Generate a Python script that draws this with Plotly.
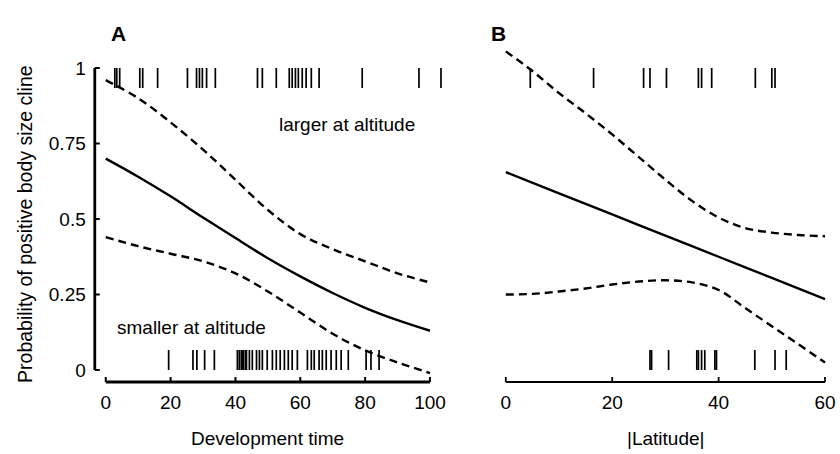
import plotly.graph_objects as go

# ---------------- data ----------------
# Panel A: development time
x_fit_A = [0, 10, 20, 30, 40, 50, 60, 70, 80, 90, 100]
fit_A = [0.70, 0.64, 0.575, 0.505, 0.437, 0.37, 0.31, 0.255, 0.206, 0.165, 0.13]
upper_A = [0.96, 0.90, 0.82, 0.73, 0.63, 0.53, 0.45, 0.40, 0.36, 0.32, 0.29]
lower_A = [0.44, 0.41, 0.385, 0.36, 0.32, 0.26, 0.19, 0.12, 0.065, 0.025, -0.01]

rug_top_A = [2.8, 3.4, 4.3, 10.5, 11.4, 16.0, 25.2, 28.0, 28.9, 29.8, 31.1, 33.8,
             46.8, 48.3, 52.6, 56.6, 57.5, 58.5, 59.4, 60.6, 61.8, 63.4, 65.8,
             79.1, 96.6, 103.4]
rug_bot_A = [19.4, 26.9, 28.1, 30.5, 33.5, 40.6, 41.2, 41.8, 42.2, 42.5, 43.1, 43.4,
             44.3, 45.2, 46.5, 47.4, 48.3, 49.8, 51.4, 52.6, 53.8, 55.1, 56.3, 57.5,
             59.1, 62.2, 63.4, 64.3, 65.8, 66.8, 68.0, 69.5, 71.1, 72.6, 74.8,
             80.3, 81.8, 84.3]

# Panel B: |latitude|
x_fit_B = [0, 10, 20, 30, 40, 50, 60]
fit_B = [0.655, 0.585, 0.515, 0.445, 0.375, 0.305, 0.235]
x_ci_B = [0, 5, 10, 15, 20, 25, 30, 35, 40, 45, 50, 55, 60]
upper_B = [1.055, 0.99, 0.917, 0.85, 0.78, 0.705, 0.63, 0.56, 0.505, 0.47, 0.455, 0.447, 0.443]
lower_B = [0.25, 0.252, 0.26, 0.27, 0.283, 0.293, 0.297, 0.29, 0.265, 0.205, 0.145, 0.085, 0.025]

rug_top_B = [4.6, 16.5, 25.9, 27.1, 30.2, 36.2, 36.8, 38.7, 46.9, 50.0, 50.6]
rug_bot_B = [27.1, 27.4, 30.6, 35.9, 36.2, 36.8, 37.4, 39.3, 39.6, 46.8, 50.6, 52.7]

x_ticks_A = [0, 20, 40, 60, 80, 100]
x_ticks_B = [0, 20, 40, 60]
y_ticks = [0, 0.25, 0.5, 0.75, 1]
y_tick_text = ["0", "0.25", "0.5", "0.75", "1"]

RUG_LEN = 0.066

# ---------------- figure ----------------
W, H = 840, 454
FONT = "Liberation Sans, Arial, sans-serif"


def fx(px):
    return px / W


def fy(py):
    return 1 - py / H


fig = go.Figure()


def rug(vals, top, xa, ya):
    xs, ys = [], []
    for v in vals:
        xs += [v, v, None]
        if top:
            ys += [1, 1 - RUG_LEN, None]
        else:
            ys += [0, RUG_LEN, None]
    fig.add_trace(go.Scatter(x=xs, y=ys, mode="lines", xaxis=xa, yaxis=ya,
                             line=dict(color="black", width=1.7),
                             showlegend=False, hoverinfo="skip"))


def curve(xv, yv, dashed, xa, ya):
    fig.add_trace(go.Scatter(x=xv, y=yv, mode="lines", xaxis=xa, yaxis=ya,
                             line=dict(color="black", width=2.4, shape="spline",
                                       dash="8px,5px" if dashed else "solid"),
                             showlegend=False, hoverinfo="skip"))


rug(rug_top_A, True, "x", "y")
rug(rug_bot_A, False, "x", "y")
curve(x_fit_A, fit_A, False, "x", "y")
curve(x_fit_A, upper_A, True, "x", "y")
curve(x_fit_A, lower_A, True, "x", "y")

rug(rug_top_B, True, "x2", "y2")
rug(rug_bot_B, False, "x2", "y2")
curve(x_fit_B, fit_B, False, "x2", "y2")
curve(x_ci_B, upper_B, True, "x2", "y2")
curve(x_ci_B, lower_B, True, "x2", "y2")

shapes = []
# x-axis lines
shapes.append(dict(type="line", xref="x", yref="y domain", x0=x_ticks_A[0], x1=x_ticks_A[-1],
                   y0=0, y1=0, line=dict(color="black", width=2.8)))
shapes.append(dict(type="line", xref="x2", yref="y2 domain", x0=x_ticks_B[0], x1=x_ticks_B[-1],
                   y0=0, y1=0, line=dict(color="black", width=2.2)))
for v in x_ticks_A:
    shapes.append(dict(type="line", xref="x", yref="y domain", ysizemode="pixel", yanchor=0,
                       x0=v, x1=v, y0=0, y1=5, line=dict(color="black", width=2)))
for v in x_ticks_B:
    shapes.append(dict(type="line", xref="x2", yref="y2 domain", ysizemode="pixel", yanchor=0,
                       x0=v, x1=v, y0=0, y1=5, line=dict(color="black", width=1.8)))
# y-axis line (panel A only)
shapes.append(dict(type="line", xref="x domain", yref="y", x0=0, x1=0,
                   y0=y_ticks[0], y1=y_ticks[-1], line=dict(color="black", width=2.8)))
for v in y_ticks:
    shapes.append(dict(type="line", xref="x domain", yref="y", xsizemode="pixel", xanchor=0,
                       x0=0, x1=5, y0=v, y1=v, line=dict(color="black", width=2)))

ax_common = dict(showgrid=False, zeroline=False, showline=False, ticks="",
                 tickfont=dict(family=FONT, size=19, color="black"))

fig.update_layout(
    width=W, height=H, margin=dict(l=0, r=0, t=0, b=0),
    paper_bgcolor="white", plot_bgcolor="white",
    shapes=shapes,
    xaxis=dict(domain=[fx(95), fx(446)], range=[-3.385, 104.615], anchor="y",
               tickvals=x_ticks_A, ticktext=[str(v) for v in x_ticks_A],
               ticklabelstandoff=7, **ax_common),
    xaxis2=dict(domain=[fx(500), fx(836)], range=[-1.3125, 61.6875], anchor="y2",
                tickvals=x_ticks_B, ticktext=[str(v) for v in x_ticks_B],
                ticklabelstandoff=7, **ax_common),
    yaxis=dict(domain=[fy(382), fy(38)], range=[-0.03974, 1.09934], anchor="x",
               tickvals=y_ticks, ticktext=y_tick_text, ticklabelstandoff=8, **ax_common),
    yaxis2=dict(domain=[fy(382), fy(38)], range=[-0.03974, 1.09934], anchor="x2",
                showticklabels=False, showgrid=False, zeroline=False, showline=False),
    font=dict(family=FONT, color="black"),
)

ann = [
    dict(text="<b>A</b>", x=fx(119), y=fy(33)),
    dict(text="<b>B</b>", x=fx(500), y=fy(33)),
    dict(text="larger at altitude", x=fx(348), y=fy(124)),
    dict(text="smaller at altitude", x=fx(192), y=fy(327)),
    dict(text="Development time", x=fx(268), y=fy(438)),
    dict(text="|Latitude|", x=fx(667), y=fy(438)),
]
for a in ann:
    fig.add_annotation(xref="paper", yref="paper", showarrow=False,
                       xanchor="center", yanchor="middle",
                       font=dict(family=FONT, size=21 if a["text"].startswith("<b>") else 19,
                                 color="black"), **a)
fig.add_annotation(xref="paper", yref="paper", showarrow=False, textangle=-90,
                   text="Probability of positive body size cline",
                   x=fx(25), y=fy(224), xanchor="center", yanchor="middle",
                   font=dict(family=FONT, size=19.5, color="black"))

fig.write_html("out.html")
